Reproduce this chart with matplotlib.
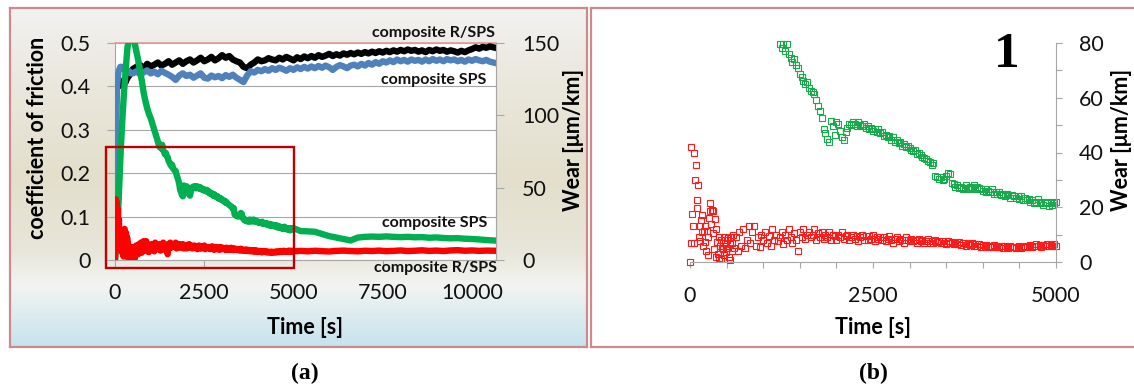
import matplotlib
matplotlib.use("Agg")
import matplotlib.pyplot as plt
import numpy as np
from matplotlib.patches import Rectangle
from matplotlib.colors import LinearSegmentedColormap

plt.rcParams['font.family'] = ['Lato', 'DejaVu Sans']

# ---------------- data: panel (a) coefficient of friction ----------------
cof_time_s = [0, 20, 40, 60, 80, 100, 150, 200, 250, 300, 350, 400, 450] + list(range(500, 10601, 100))

cof_rsps = [0.115, 0.30, 0.39, 0.40, 0.405, 0.40, 0.41, 0.405, 0.415, 0.41, 0.42, 0.425, 0.435,
            0.44, 0.445, 0.45, 0.44, 0.452, 0.446, 0.45, 0.455, 0.448, 0.452,
            0.458, 0.45, 0.455, 0.46, 0.452, 0.458, 0.462, 0.455, 0.46, 0.466,
            0.458, 0.462, 0.468, 0.46, 0.465, 0.472, 0.466, 0.47, 0.462, 0.458,
            0.455, 0.445, 0.442, 0.45, 0.455, 0.462, 0.458, 0.46, 0.465, 0.462,
            0.46, 0.466, 0.462, 0.468, 0.464, 0.46, 0.467, 0.463, 0.469, 0.465,
            0.47, 0.466, 0.472, 0.468, 0.471, 0.475, 0.47, 0.474, 0.471, 0.476,
            0.473, 0.477, 0.474, 0.478, 0.475, 0.479, 0.476, 0.48, 0.477, 0.481,
            0.478, 0.482, 0.479, 0.483, 0.48, 0.484, 0.481, 0.485, 0.482, 0.484,
            0.48, 0.483, 0.479, 0.484, 0.481, 0.485, 0.482, 0.484, 0.48, 0.483,
            0.481, 0.478, 0.482, 0.479, 0.483, 0.486, 0.49, 0.487, 0.491, 0.489,
            0.492, 0.49]

cof_sps = [0.13, 0.25, 0.36, 0.40, 0.42, 0.435, 0.445, 0.445, 0.44, 0.435, 0.432, 0.435, 0.43,
           0.43, 0.435, 0.428, 0.432, 0.437, 0.43, 0.434, 0.428, 0.436, 0.431,
           0.427, 0.422, 0.415, 0.425, 0.43, 0.424, 0.427, 0.42, 0.425, 0.43,
           0.42, 0.418, 0.425, 0.421, 0.424, 0.419, 0.426, 0.422, 0.427, 0.42,
           0.415, 0.41, 0.425, 0.435, 0.432, 0.438, 0.435, 0.44, 0.436, 0.442,
           0.438, 0.443, 0.44, 0.436, 0.442, 0.438, 0.444, 0.44, 0.445, 0.441,
           0.446, 0.442, 0.447, 0.443, 0.448, 0.444, 0.438, 0.445, 0.449, 0.446,
           0.442, 0.448, 0.45, 0.446, 0.452, 0.448, 0.454, 0.45, 0.456, 0.452,
           0.458, 0.455, 0.46, 0.456, 0.462, 0.458, 0.461, 0.457, 0.462, 0.459,
           0.461, 0.457, 0.462, 0.458, 0.463, 0.459, 0.462, 0.458, 0.463, 0.46,
           0.462, 0.458, 0.461, 0.457, 0.462, 0.459, 0.463, 0.46, 0.458, 0.461,
           0.457, 0.455]

# ---------------- data: wear, composite R/SPS (red) ----------------
wear_rsps_early_t = list(range(0, 601, 10))
wear_rsps_early = [0, 7, 42, 17.5, 13, 40, 7, 30, 35.5, 22.6,
                   19.7, 28, 9, 13, 7.5, 15.3, 11, 17.2, 6, 11.2,
                   7.4, 13, 4, 11.2, 2.4, 9, 16, 21.5, 18.5, 14,
                   19, 18.7, 10.5, 4.8, 15.6, 1.8, 11.9, 7.4, 3, 9,
                   1.5, 6, 8, 1.2, 5, 4.8, 9, 2.5, 7, 3.5,
                   8, 5, 8.8, 2, 6.5, 0.8, 9, 4, 7, 10, 5]
wear_rsps_dense_t = list(range(625, 5001, 25))
wear_rsps_dense = [9, 4, 11, 6, 12, 5, 8, 13,
                   7, 11, 13, 6, 9, 5.5, 10, 8,
                   11, 7, 9.5, 6, 12, 8, 10, 7.5,
                   9, 11, 6.5, 10, 8, 12, 9, 7,
                   10.5, 8, 4, 11, 9, 12, 8.5, 10,
                   11, 9, 10, 12, 8, 10.5, 9, 11,
                   8.5, 10, 9, 11, 8, 10, 9.5, 8,
                   10, 9, 11, 8.5, 9.5, 10, 8, 9,
                   10, 8.5, 9.5, 7.5, 9, 10, 8, 9.5,
                   8, 9.5, 8.5, 10, 7.5, 9, 8.5, 9,
                   8, 9, 7.5, 8.5, 9.5, 8, 7, 8.5,
                   9, 7.5, 8.5, 8, 7, 9, 8, 7.5,
                   8.5, 7.5, 8, 7, 8.5, 7.5, 8, 7,
                   7.5, 8.5, 7, 7.8, 6.8, 8, 7.2, 7.6,
                   6.8, 7.5, 7, 6.5, 7.8, 6.8, 7.2, 6.4,
                   7, 6.5, 7.3, 6.2, 6.8, 7, 6, 6.6,
                   6.2, 6.8, 5.8, 6.5, 6, 6.7, 5.6, 6.3,
                   5.8, 6.3, 5.5, 6, 5.3, 6.1, 5.6, 5.9,
                   5.4, 5.9, 5.2, 5.7, 5.5, 5, 5.8, 5.3,
                   5.6, 5.1, 5.5, 5.9, 5.2, 5.6, 6, 5.4,
                   5.8, 6.2, 5.5, 6, 6.4, 5.7, 6.1, 5.6,
                   6.2, 5.8, 6.5, 6, 6.3, 5.7, 6.4, 6]
wear_rsps_tail_t = list(range(5200, 10601, 200))
wear_rsps_tail = [6.3, 6.0, 6.4, 6.1, 5.9, 6.3, 6.5, 6.2, 6.0, 6.4,
                  6.2, 6.5, 6.1, 6.3, 6.6, 6.2, 6.4, 6.7, 6.3, 6.5,
                  6.2, 6.6, 6.8, 6.4, 6.6, 6.3, 6.5, 6.4]

# ---------------- data: wear, composite SPS (green) ----------------
wear_sps_early_t = list(range(0, 1201, 50))
wear_sps_early = [0, 15, 40, 70, 95, 115, 132, 147, 154, 157,
                  155, 150, 144, 138, 131, 124, 116, 110, 105, 101,
                  98, 94, 90, 86, 82]
wear_sps_dense_t = list(range(1225, 5001, 25))
wear_sps_dense = [79.5, 78, 79.8, 77, 79.5, 76, 74.5, 73,
                  74, 72, 71, 68.5, 67.5, 66, 65, 65.8,
                  63.5, 62.5, 62, 61.5, 59, 57, 55, 52.5,
                  48.5, 47, 45, 44, 51.5, 49.5, 46.5, 51,
                  50.5, 48, 45.5, 44.5, 47.5, 49, 50.5, 50,
                  51, 50.5, 49.5, 51, 50, 49.5, 50.5, 49,
                  49.5, 48.5, 49, 48, 48.5, 47.5, 48.5, 47,
                  47.5, 46, 46.5, 45.5, 46, 44.5, 45.5, 44,
                  44.5, 43.5, 44, 42.5, 43, 42, 42.5, 41.5,
                  41, 40.5, 41, 39.5, 40, 39, 38.5, 38,
                  37.5, 37, 36.5, 35.5, 36, 31.5, 31, 30.5,
                  31, 30, 30.5, 31.5, 32.5, 32, 29, 28.5,
                  27.5, 28, 27, 27.5, 26.5, 27, 28, 26.5,
                  27.5, 27, 28, 26.5, 27.5, 27, 26.5, 26,
                  26.5, 25.5, 26, 25.5, 26.5, 25, 25.5, 25,
                  25.5, 24.5, 25, 24, 25, 24.5, 23.5, 24.5,
                  24, 23.5, 24, 23, 24, 22.5, 23.5, 22.5,
                  23, 22, 22.5, 21.5, 22, 23, 21.5, 22,
                  21, 22, 21.5, 20.5, 22, 21, 21.5, 22]
wear_sps_tail_t = list(range(5200, 10601, 200))
wear_sps_tail = [20, 19.8, 19.5, 18, 16.5, 15.5, 14.5, 13.5, 15.5, 16,
                 16.2, 16, 16.3, 16, 15.8, 16, 15.7, 15.8, 15.4, 15.6,
                 15.2, 15, 15.1, 14.7, 14.5, 14.2, 13.8, 13.5]

# ---------------- tick labels ----------------
a_xticks = [0, 2500, 5000, 7500, 10000]
a_xlabels = ['0', '2500', '5000', '7500', '10000']
a_yticks = [0, 0.1, 0.2, 0.3, 0.4, 0.5]
a_ylabels = ['0', '0.1', '0.2', '0.3', '0.4', '0.5']
a_y2ticks = [0, 50, 100, 150]
a_y2labels = ['0', '50', '100', '150']
b_xticks = [0, 500, 1000, 1500, 2000, 2500, 3000, 3500, 4000, 4500, 5000]
b_xlabels = ['0', '', '', '', '', '2500', '', '', '', '', '5000']
b_yticks = [0, 10, 20, 30, 40, 50, 60, 70, 80]
b_ylabels = ['0', '', '20', '', '40', '', '60', '', '80']

# ---------------- figure ----------------
W, H = 1134, 389
fig = plt.figure(figsize=(W / 100, H / 100), dpi=100)
fig.patch.set_facecolor('white')


def fx(px):
    return px / W


def fy(py):
    return 1 - py / H


def box(l, t, r, b):
    return [fx(l), fy(b), fx(r) - fx(l), fy(t) - fy(b)]


GRID = '#A6A6A6'
FRAME = '#CC8A8C'
c_black, c_blue, c_green, c_red = '#000000', '#4F81BD', '#00B050', '#FF0000'
LW = 4.6

# chart-area backgrounds
bg = fig.add_axes(box(10, 8, 587, 347), zorder=-10)
cmap = LinearSegmentedColormap.from_list('bg', [(0, '#F2F2F2'), (0.15, '#ECEAE2'), (0.5, '#E3DFCC'),
                                                (0.72, '#E8E6DA'), (0.82, '#F3F4F1'), (1, '#C6E3EE')])
bg.imshow(np.linspace(0, 1, 256).reshape(-1, 1), aspect='auto', cmap=cmap,
          extent=[0, 1, 0, 1], origin='upper')
bg.set_xticks([]); bg.set_yticks([])
for s in bg.spines.values():
    s.set_color(FRAME); s.set_linewidth(1.6)

bgb = fig.add_axes(box(591, 8, 1145, 347), zorder=-10)
bgb.set_facecolor('white')
bgb.set_xticks([]); bgb.set_yticks([])
for s in bgb.spines.values():
    s.set_color(FRAME); s.set_linewidth(1.6)

# ---------------- panel (a) ----------------
ax = fig.add_axes(box(115, 43, 496, 260))
ax.set_facecolor('white')
ax.set_xlim(0, 10672)
ax.set_ylim(0, 0.5)
ax.set_axisbelow(True)
ax.yaxis.grid(True, color=GRID, lw=0.8)
ax.plot(cof_time_s, cof_rsps, color=c_black, lw=LW, solid_joinstyle='round', zorder=3)
ax.plot(cof_time_s, cof_sps, color=c_blue, lw=LW, solid_joinstyle='round', zorder=4)
ax.set_xticks(a_xticks)
ax.set_xticklabels(a_xlabels)
ax.set_yticks(a_yticks)
ax.set_yticklabels(a_ylabels)
ax.tick_params(axis='both', direction='out', length=5.8, width=0.8, color=GRID,
               labelsize=15.5, labelcolor='#111111')
ax.tick_params(axis='y', pad=12)
ax.tick_params(axis='x', pad=11)
for k in ['left', 'bottom', 'right']:
    ax.spines[k].set_color(GRID); ax.spines[k].set_linewidth(0.8)
ax.spines['top'].set_color('#E39A9A'); ax.spines['top'].set_linewidth(1.2)

ax2 = ax.twinx()
ax2.set_ylim(0, 150)
red_t = wear_rsps_early_t + wear_rsps_dense_t + wear_rsps_tail_t
red_v = wear_rsps_early + wear_rsps_dense + wear_rsps_tail
grn_t = wear_sps_early_t + wear_sps_dense_t + wear_sps_tail_t
grn_v = wear_sps_early + wear_sps_dense + wear_sps_tail
ax2.plot(grn_t, grn_v, color=c_green, lw=LW, solid_joinstyle='round', zorder=3)
ax2.plot(red_t, red_v, color=c_red, lw=LW, solid_joinstyle='round', zorder=4)
ax2.set_yticks(a_y2ticks)
ax2.set_yticklabels(a_y2labels)
ax2.tick_params(axis='y', direction='out', length=5.8, width=0.8, color=GRID,
                labelsize=15.5, labelcolor='#111111', pad=13)
for k in ['left', 'bottom', 'top']:
    ax2.spines[k].set_visible(False)
ax2.spines['right'].set_color(GRID); ax2.spines['right'].set_linewidth(0.8)
# magnified region marker (0-5000 s)
ax2.add_patch(Rectangle((-252, -5.5), 5252, 83.6, fill=False, ec='#C00000', lw=1.7,
                        clip_on=False, zorder=10))

lab_kw = dict(ha='center', va='center', fontweight='bold', fontsize=11.5, color='#111111')
fig.text(fx(434), fy(33), 'composite R/SPS', **lab_kw)
fig.text(fx(434), fy(80), 'composite SPS', **lab_kw)
fig.text(fx(435), fy(223), 'composite SPS', **lab_kw)
fig.text(fx(436), fy(268), 'composite R/SPS', **lab_kw)

axl_kw = dict(ha='center', va='center', fontweight='bold', fontsize=15.5, color='#000000')
fig.text(fx(38), fy(138), 'coefficient of friction', rotation=90, **axl_kw)
fig.text(fx(573), fy(140), 'Wear [μm/km]', rotation=90, **axl_kw)
fig.text(fx(305), fy(327), 'Time [s]', **axl_kw)

# ---------------- panel (b) ----------------
axb = fig.add_axes(box(690, 43, 1056, 262))
axb.patch.set_alpha(0)
axb.set_xlim(0, 5000)
axb.set_ylim(0, 80)
mk = dict(linestyle='none', marker='s', markersize=3.8, mfc='none', mew=0.8, clip_on=False)
axb.plot(wear_sps_dense_t, wear_sps_dense, color='#19A84B', **mk)
axb.plot(wear_rsps_early_t + wear_rsps_dense_t, wear_rsps_early + wear_rsps_dense, color='#FF1A1A', **mk)
axb.yaxis.tick_right()
axb.set_xticks(b_xticks)
axb.set_xticklabels(b_xlabels)
axb.set_yticks(b_yticks)
axb.set_yticklabels(b_ylabels)
axb.tick_params(axis='both', direction='out', length=4.5, width=0.8, color=GRID,
                labelsize=15.5, labelcolor='#111111')
axb.tick_params(axis='x', pad=13)
axb.tick_params(axis='y', pad=12)
for k in ['left', 'top']:
    axb.spines[k].set_visible(False)
for k in ['bottom', 'right']:
    axb.spines[k].set_color(GRID); axb.spines[k].set_linewidth(0.8)

fig.text(fx(873), fy(328), 'Time [s]', **axl_kw)
fig.text(fx(1122), fy(140), 'Wear [μm/km]', rotation=90, **axl_kw)
fig.text(fx(1007), fy(55), '1', ha='center', va='center', fontsize=37, fontweight='bold',
         family=['Liberation Serif', 'DejaVu Serif'])

cap_kw = dict(ha='center', va='center', fontsize=17, fontweight='bold',
              family=['Liberation Serif', 'DejaVu Serif'])
fig.text(fx(305), fy(373), '(a)', **cap_kw)
fig.text(fx(873), fy(373), '(b)', **cap_kw)

fig.savefig('out.png', dpi=100)
